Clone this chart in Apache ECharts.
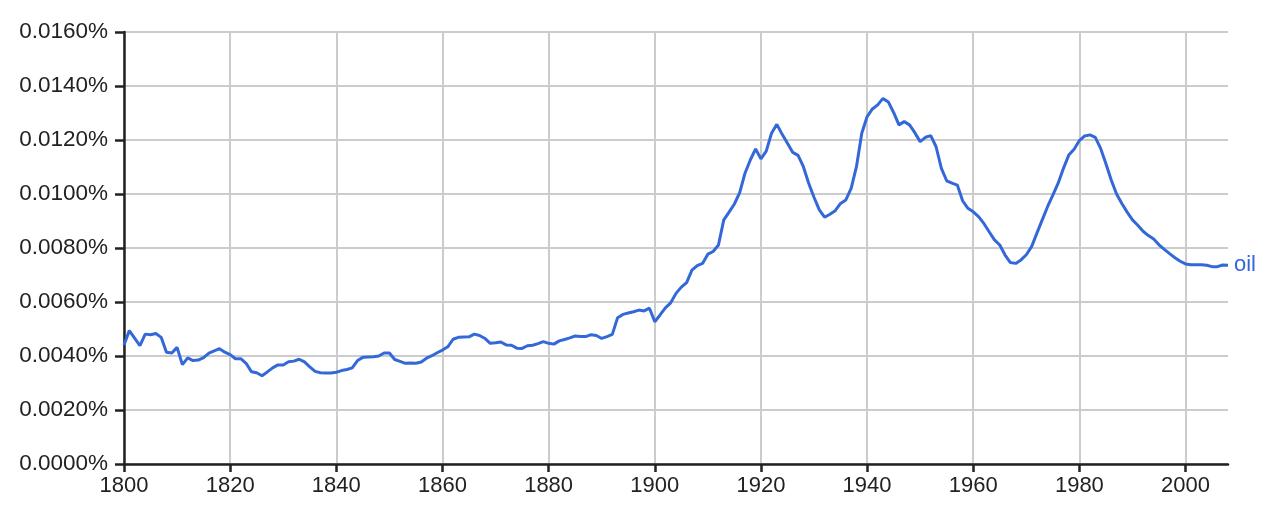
<!DOCTYPE html>
<html>
<head>
<meta charset="utf-8">
<script src="https://cdn.jsdelivr.net/npm/echarts@6/dist/echarts.min.js"></script>
<style>
html,body{margin:0;padding:0;background:#fff;}
#chart{width:1280px;height:516px;}
</style>
</head>
<body>
<div id="chart"></div>
<script>
const START_YEAR = 1800;
const seriesName = 'oil';
// Frequency in percent, one value per year 1800..2008
const oilValues = [
0.00441,0.00494,0.00466,0.00438,0.00481,0.00479,0.00483,0.00469,0.00414,0.00411,
0.00432,0.00368,0.00393,0.00383,0.00385,0.00394,0.00411,0.00419,0.00427,0.00414,
0.00405,0.00390,0.00390,0.00373,0.00342,0.00338,0.00327,0.00341,0.00356,0.00367,
0.00367,0.00379,0.00381,0.00388,0.00378,0.00360,0.00343,0.00338,0.00337,0.00337,
0.00340,0.00346,0.00350,0.00356,0.00383,0.00395,0.00396,0.00397,0.00400,0.00411,
0.00411,0.00387,0.00380,0.00373,0.00374,0.00373,0.00378,0.00392,0.00401,0.00412,
0.00422,0.00434,0.00462,0.00469,0.00470,0.00471,0.00481,0.00476,0.00465,0.00447,
0.00449,0.00452,0.00441,0.00440,0.00429,0.00428,0.00438,0.00440,0.00446,0.00453,
0.00447,0.00444,0.00456,0.00461,0.00467,0.00474,0.00472,0.00472,0.00479,0.00476,
0.00465,0.00472,0.00480,0.00542,0.00554,0.00559,0.00564,0.00570,0.00567,0.00577,
0.00527,0.00552,0.00578,0.00597,0.00632,0.00655,0.00672,0.00718,0.00735,0.00743,
0.00777,0.00787,0.00811,0.00904,0.00933,0.00963,0.01005,0.01077,0.01126,0.01167,
0.01130,0.01159,0.01225,0.01258,0.01221,0.01188,0.01154,0.01143,0.01101,0.01040,
0.00988,0.00941,0.00914,0.00925,0.00938,0.00965,0.00978,0.01021,0.01101,0.01225,
0.01286,0.01315,0.01330,0.01354,0.01341,0.01302,0.01256,0.01268,0.01256,0.01227,
0.01194,0.01210,0.01216,0.01175,0.01095,0.01049,0.01040,0.01033,0.00975,0.00947,
0.00934,0.00916,0.00891,0.00860,0.00830,0.00811,0.00774,0.00746,0.00743,0.00756,
0.00775,0.00805,0.00855,0.00904,0.00953,0.00996,0.01040,0.01095,0.01144,0.01166,
0.01198,0.01215,0.01219,0.01210,0.01169,0.01112,0.01052,0.01000,0.00965,0.00933,
0.00904,0.00884,0.00862,0.00846,0.00833,0.00812,0.00795,0.00779,0.00764,0.00751,
0.00741,0.00738,0.00738,0.00738,0.00736,0.00731,0.00731,0.00737,0.00736
];
const years = oilValues.map((_, i) => START_YEAR + i);
const xTickValues = [1800,1820,1840,1860,1880,1900,1920,1940,1960,1980,2000];

const chart = echarts.init(document.getElementById('chart'));
const FONT = '"Liberation Sans", Arial, sans-serif';
const LINE_COLOR = '#3368d8';
chart.setOption({
  animation: false,
  grid: { left: 124, right: 52, top: 32, bottom: 52, containLabel: false },
  xAxis: {
    type: 'value', min: 1800, max: 2008,
    axisLine: { show: true, onZero: false, lineStyle: { color: '#222', width: 2.5 } },
    axisTick: { show: true, length: 8, customValues: xTickValues, lineStyle: { color: '#222', width: 2.5 } },
    axisLabel: { customValues: xTickValues, margin: 11, color: '#222', fontSize: 22, fontFamily: FONT,
      formatter: v => String(v) },
    splitLine: { show: true, lineStyle: { color: '#cccccc', width: 2 } }
  },
  yAxis: {
    type: 'value', min: 0, max: 0.016, interval: 0.002,
    axisLine: { show: true, lineStyle: { color: '#222', width: 2.5 } },
    axisTick: { show: true, length: 9, lineStyle: { color: '#222', width: 2.5 } },
    axisLabel: { margin: 16, color: '#222', fontSize: 22.5, fontFamily: FONT,
      formatter: v => v.toFixed(4) + '%' },
    splitLine: { show: true, lineStyle: { color: '#cccccc', width: 2 } }
  },
  series: [{
    name: seriesName, type: 'line', showSymbol: false, symbol: 'none',
    data: years.map((y, i) => [y, oilValues[i]]),
    lineStyle: { color: LINE_COLOR, width: 3 },
    itemStyle: { color: LINE_COLOR },
    endLabel: { show: true, formatter: seriesName, color: LINE_COLOR, fontSize: 22, fontFamily: FONT, distance: 6 }
  }]
});
</script>
</body>
</html>
